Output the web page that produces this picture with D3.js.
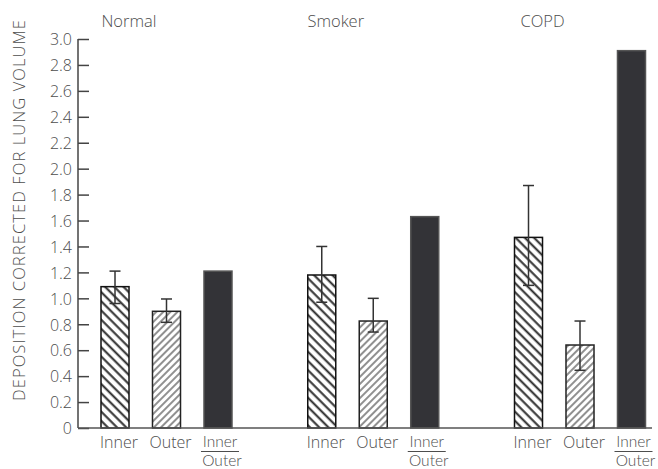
<!DOCTYPE html>
<html>
<head>
<meta charset="utf-8">
<script src="https://cdn.jsdelivr.net/npm/d3@7"></script>
<style>
  html, body { margin: 0; padding: 0; background: #fff; }
  svg text { font-family: "Open Sans", Lato, sans-serif; fill: #4d4d4d; }
  svg text.frac { font-family: Lato, "Open Sans", sans-serif; }
</style>
</head>
<body>
<svg id="chart" width="658" height="469"></svg>
<script>
// Deposition by lung region, corrected for lung volume
const groups = ["Normal", "Smoker", "COPD"];
const measures = ["Inner", "Outer", "Ratio"];
const innerValues = [1.09, 1.18, 1.47];
const innerErrHigh = [1.21, 1.40, 1.87];
const innerErrLow = [0.96, 0.97, 1.10];
const outerValues = [0.90, 0.825, 0.64];
const outerErrHigh = [0.995, 1.00, 0.825];
const outerErrLow = [0.815, 0.74, 0.445];
const ratioValues = [1.21, 1.63, 2.91];
const yTicks = [0, 0.2, 0.4, 0.6, 0.8, 1.0, 1.2, 1.4, 1.6, 1.8, 2.0, 2.2, 2.4, 2.6, 2.8, 3.0];
const yTitle = "DEPOSITION CORRECTED FOR LUNG VOLUME";

const svg = d3.select("#chart");
const axisX = 78, baseY = 428, topY = 39;

const y = d3.scaleLinear().domain([0, 3]).range([baseY, topY]);
const x0 = d3.scalePoint().domain(groups).range([166.5, 580]);
const x1 = d3.scaleBand().domain(measures).range([-65.5, 65.5]).paddingInner(0.456).paddingOuter(0);

// hatch patterns
const defs = svg.append("defs");
defs.append("pattern").attr("id", "hatchInner")
  .attr("patternUnits", "userSpaceOnUse").attr("width", 6.5).attr("height", 6.5)
  .attr("patternTransform", "rotate(-45)")
  .call(p => {
    p.append("rect").attr("width", 6.5).attr("height", 6.5).attr("fill", "#fff");
    p.append("line").attr("x1", 1.5).attr("x2", 1.5).attr("y1", 0).attr("y2", 6.5)
      .attr("stroke", "#2a2a2a").attr("stroke-width", 2);
  });
defs.append("pattern").attr("id", "hatchOuter")
  .attr("patternUnits", "userSpaceOnUse").attr("width", 5).attr("height", 5)
  .attr("patternTransform", "rotate(45)")
  .call(p => {
    p.append("rect").attr("width", 5).attr("height", 5).attr("fill", "#fff");
    p.append("line").attr("x1", 1).attr("x2", 1).attr("y1", 0).attr("y2", 5)
      .attr("stroke", "#555").attr("stroke-width", 1.3);
  });

const rows = groups.map((g, i) => [
  { group: g, measure: "Inner", value: innerValues[i], hi: innerErrHigh[i], lo: innerErrLow[i] },
  { group: g, measure: "Outer", value: outerValues[i], hi: outerErrHigh[i], lo: outerErrLow[i] },
  { group: g, measure: "Ratio", value: ratioValues[i] }
]).flat();

const bx = d => x0(d.group) + x1(d.measure);
const bw = x1.bandwidth();
const fills = { Inner: "url(#hatchInner)", Outer: "url(#hatchOuter)", Ratio: "#333337" };
const strokes = { Inner: "#111", Outer: "#222", Ratio: "#555" };

// bars
svg.append("g").selectAll("rect").data(rows).join("rect")
  .attr("x", bx)
  .attr("y", d => y(d.value))
  .attr("width", bw)
  .attr("height", d => y(0) - y(d.value))
  .attr("fill", d => fills[d.measure])
  .attr("stroke", d => strokes[d.measure])
  .attr("stroke-width", 1.5);

// error bars
const errs = svg.append("g").attr("stroke", "#333").attr("stroke-width", 1.5)
  .selectAll("g").data(rows.filter(d => d.hi !== undefined)).join("g");
errs.append("line")
  .attr("x1", d => bx(d) + bw / 2).attr("x2", d => bx(d) + bw / 2)
  .attr("y1", d => y(d.hi)).attr("y2", d => y(d.lo));
errs.append("line")
  .attr("x1", d => bx(d) + bw / 2 - 5.5).attr("x2", d => bx(d) + bw / 2 + 5.5)
  .attr("y1", d => y(d.hi)).attr("y2", d => y(d.hi));
errs.append("line")
  .attr("x1", d => bx(d) + bw / 2 - 5.5).attr("x2", d => bx(d) + bw / 2 + 5.5)
  .attr("y1", d => y(d.lo)).attr("y2", d => y(d.lo));

// y axis: ticks point inward
const yAxis = svg.append("g").attr("transform", `translate(${axisX},0)`)
  .call(d3.axisRight(y).tickValues(yTicks).tickSize(11).tickFormat(() => ""));
yAxis.select(".domain").attr("stroke", "#444").attr("stroke-width", 1.5).attr("d", `M0,${topY}V${baseY}`);
yAxis.selectAll(".tick line").attr("stroke", "#444").attr("stroke-width", 1.5);
yAxis.selectAll(".tick").append("text")
  .attr("x", -6).attr("dy", "0.36em")
  .attr("text-anchor", "end")
  .attr("font-size", 16)
  .style("font-weight", 300)
  .text(d => d === 0 ? "0" : d3.format(".1f")(d));

// x baseline
svg.append("line").attr("x1", axisX).attr("x2", 652)
  .attr("y1", baseY).attr("y2", baseY)
  .attr("stroke", "#555").attr("stroke-width", 1.5);

// category labels under bars; the ratio label is a stacked fraction
const labels = svg.append("g").attr("font-size", 16).style("font-weight", 300);
rows.forEach(d => {
  const cx = bx(d) + bw / 2 + 4;
  if (d.measure !== "Ratio") {
    labels.append("text").attr("x", cx).attr("y", 448).attr("text-anchor", "middle").text(d.measure);
  } else {
    labels.append("text").attr("class", "frac").attr("font-size", 15.5)
      .attr("x", cx - 2).attr("y", 447).attr("text-anchor", "middle").text("Inner");
    labels.append("text").attr("class", "frac").attr("font-size", 15.5)
      .attr("x", cx).attr("y", 465.5).attr("text-anchor", "middle").text("Outer");
    labels.append("line").attr("x1", cx - 21).attr("x2", cx + 17)
      .attr("y1", 451.5).attr("y2", 451.5).attr("stroke", "#4d4d4d").attr("stroke-width", 1.2);
  }
});

// group titles
svg.append("g").selectAll("text").data(groups).join("text")
  .attr("x", g => x0(g) + x1("Inner") + bw / 2 + 14)
  .attr("y", 27)
  .attr("text-anchor", "middle")
  .attr("font-size", 16.5)
  .style("font-weight", 300)
  .text(g => g);

// y axis title
svg.append("text")
  .attr("transform", "translate(25,210) rotate(-90)")
  .attr("text-anchor", "middle")
  .attr("font-size", 16.5)
  .attr("letter-spacing", 1.1)
  .style("font-weight", 300)
  .text(yTitle);
</script>
</body>
</html>
